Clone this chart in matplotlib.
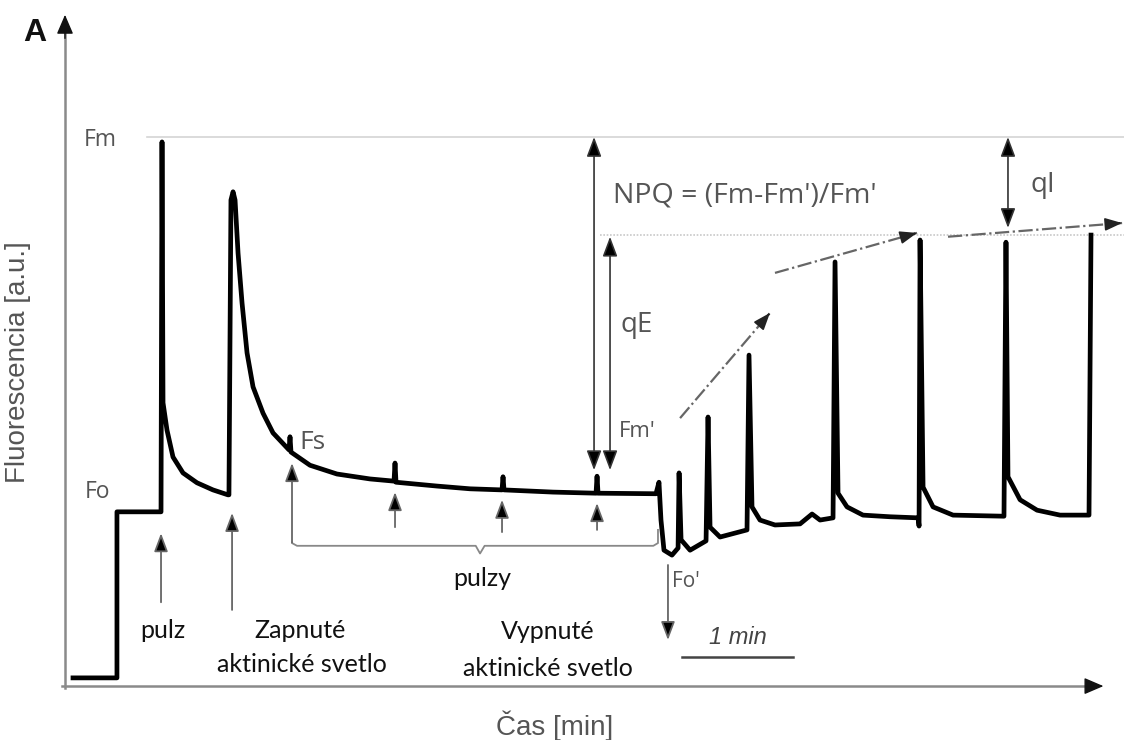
import matplotlib.pyplot as plt

# fluorescence trace: time [min], fluorescence [a.u., Fm = 100]
cas = [0.072, 0.468, 0.468, 0.865, 0.874, 0.883, 0.919, 0.973, 1.063, 1.189, 1.333, 1.468,
       1.477, 1.495, 1.514, 1.532, 1.559, 1.595, 1.640, 1.694, 1.784, 1.874, 2.018, 2.027,
       2.036, 2.207, 2.450, 2.748, 2.964, 2.973, 2.982, 3.351, 3.649, 3.937, 3.946, 3.955,
       4.396, 4.784, 4.793, 4.802, 5.324, 5.351, 5.369, 5.396, 5.468, 5.523, 5.532, 5.550,
       5.631, 5.775, 5.793, 5.811, 5.901, 6.144, 6.162, 6.189, 6.261, 6.396, 6.622, 6.730,
       6.802, 6.919, 6.937, 6.964, 7.045, 7.189, 7.432, 7.685, 7.694, 7.703, 7.730, 7.820,
       8.000, 8.459, 8.477, 8.495, 8.604, 8.757, 8.964, 9.225, 9.243]
fluo = [1.3, 1.3, 31.6, 31.6, 99.1, 51.5, 46.5, 41.6, 38.7, 36.9, 35.6, 34.7,
        34.7, 88.5, 90.0, 88.5, 78.8, 69.7, 60.6, 54.4, 49.6, 46.0, 42.9, 45.3,
        42.5, 40.1, 38.5, 37.6, 37.2, 40.5, 37.0, 36.3, 35.8, 35.6, 38.0, 35.6,
        35.2, 35.0, 38.1, 35.0, 34.9, 37.0, 30.1, 24.6, 23.7, 25.0, 38.7, 26.5,
        24.6, 26.3, 48.9, 28.8, 27.0, 28.3, 60.2, 32.5, 30.1, 29.2, 29.4, 31.2,
        30.1, 30.5, 77.2, 35.0, 32.5, 31.0, 30.7, 30.5, 29.0, 81.2, 36.1, 32.5,
        31.0, 30.8, 80.8, 38.0, 33.8, 31.9, 31.0, 31.0, 82.1]

fm = 100.0          # Fm
fm_ust = 82.1       # Fm' after relaxation
fs_hrot = 39.2      # Fm' marked under actinic light

# pulses under actinic light (time, arrow tip, arrow tail)
pulz_t = [2.045, 2.973, 3.937, 4.793]
pulz_hrot = [40.5, 35.2, 33.8, 33.2]
pulz_chvost = [26.0, 28.8, 27.9, 28.3]

# Fm' trend arrows (start, end)
trend_od = [(5.541, 48.7), (6.396, 75.2), (7.955, 81.8)]
trend_do = [(6.351, 67.9), (7.676, 82.5), (9.523, 84.3)]

sivy = '#555555'

plt.rcParams['font.family'] = ['Lato', 'DejaVu Sans']

fig = plt.figure(figsize=(11.24, 7.4), dpi=100)
ax = fig.add_axes([65 / 1124, 55 / 740, 1035 / 1124, 670 / 740])
ax.set_xlim(0, 9.324)
ax.set_ylim(0, 122.26)
ax.axis('off')

# axes as arrows: gray shaft, black head
ax.plot([0, 0], [-0.6, 119], color='#8a8a8a', lw=1.8, clip_on=False)
ax.plot([-0.03, 9.25], [-0.2, -0.2], color='#8a8a8a', lw=1.8, clip_on=False)
hlava = dict(arrowstyle='-|>,head_length=0.7,head_width=0.3', color='#111111', lw=1.0,
             shrinkA=0, shrinkB=0, mutation_scale=17)
ax.annotate('', xy=(0, 122.3), xytext=(0, 118), arrowprops=hlava, annotation_clip=False)
ax.annotate('', xy=(9.355, -0.2), xytext=(9.22, -0.2), arrowprops=hlava, annotation_clip=False)

# guide lines
ax.plot([0.739, 9.54], [fm, fm], color='#d4d4d4', lw=1.2, clip_on=False)
ax.plot([4.82, 9.54], [fm_ust, fm_ust], color='#c8c8c8', lw=1.2, ls=(0, (1, 1)), clip_on=False)

# trace
ax.plot(cas, fluo, color='black', lw=3.4, solid_joinstyle='round', zorder=5)

dvoj = dict(arrowstyle='<|-|>,head_length=0.8,head_width=0.3', fc='black', ec='#333333',
            lw=1.2, shrinkA=0, shrinkB=0, mutation_scale=15)
ax.annotate('', xy=(4.766, fm), xytext=(4.766, fs_hrot), arrowprops=dvoj)
ax.annotate('', xy=(4.910, 81.8), xytext=(4.910, fs_hrot), arrowprops=dvoj)
ax.annotate('', xy=(8.495, fm), xytext=(8.495, 83.4), arrowprops=dvoj)

# small arrows pointing to pulses
sipka = dict(arrowstyle='-|>,head_length=0.8,head_width=0.3', fc='black', ec='#666666',
             lw=1.3, shrinkA=0, shrinkB=0, mutation_scale=14)
ax.annotate('', xy=(0.865, 27.7), xytext=(0.865, 15.1), arrowprops=sipka)
ax.annotate('', xy=(1.505, 31.4), xytext=(1.505, 13.7), arrowprops=sipka)
for t, h, c in zip(pulz_t, pulz_hrot, pulz_chvost):
    ax.annotate('', xy=(t, h), xytext=(t, c), arrowprops=sipka)
ax.annotate('', xy=(5.432, 8.2), xytext=(5.432, 21.9), arrowprops=sipka)

# bracket under the pulses
ax.plot([2.045, 2.045, 2.09, 3.70, 3.739, 3.78, 5.30, 5.342, 5.342],
        [26.0, 25.9, 25.4, 25.4, 24.0, 25.4, 25.4, 25.9, 28.3],
        color='#888888', lw=1.3)

# Fm' trend dash-dot arrows
for (x0, y0), (x1, y1) in zip(trend_od, trend_do):
    ax.plot([x0, x1], [y0, y1], color='#666666', lw=1.6, ls='-.', clip_on=False)
    ax.annotate('', xy=(x1, y1), xytext=(x1 - (x1 - x0) * 0.02, y1 - (y1 - y0) * 0.02),
                arrowprops=dict(arrowstyle='-|>,head_length=0.8,head_width=0.3',
                                color='#222222', lw=1.2, shrinkA=0, shrinkB=0,
                                mutation_scale=13),
                annotation_clip=False)

# scale bar
ax.plot([5.559, 6.559], [5.1, 5.1], color='#444444', lw=1.8)
ax.text(6.06, 8.6, '1 min', ha='center', va='center', fontsize=17, style='italic',
        color='#444444', family=['Liberation Sans', 'DejaVu Sans'])

# labels in the plot
pop = dict(color=sivy, family=['Open Sans', 'DejaVu Sans'], va='center')
ax.text(0.315, 99.5, 'Fm', ha='center', fontsize=16.5, **pop)
ax.text(0.297, 35.2, 'Fo', ha='center', fontsize=16.5, **pop)
ax.text(2.225, 44.2, 'Fs', ha='center', fontsize=19, **pop)
ax.text(5.153, 46.2, "Fm'", ha='center', fontsize=16, **pop)
ax.text(5.153, 65.7, 'qE', ha='center', fontsize=20, **pop)
ax.text(4.937, 89.4, "NPQ = (Fm-Fm')/Fm'", ha='left', fontsize=20.5, **pop)
ax.text(8.694, 91.2, 'qI', ha='left', fontsize=20, **pop)
ax.text(5.470, 18.8, "Fo'", ha='left', fontsize=15, **pop)

cierny = dict(color='#111111', ha='center', va='center', fontsize=18)
ax.text(0.883, 10.0, 'pulz', **cierny)
ax.text(2.117, 10.0, 'Zapnuté', **cierny)
ax.text(2.135, 3.8, 'aktinické svetlo', **cierny)
ax.text(4.351, 9.7, 'Vypnuté', **cierny)
ax.text(4.351, 3.1, 'aktinické svetlo', **cierny)
ax.text(3.757, 19.5, 'pulzy', **cierny)

fig.text(35 / 1124, 1 - 33 / 740, 'A', ha='center', va='center', fontsize=23,
         fontweight='bold', color='#111111', family=['Liberation Sans', 'DejaVu Sans'])
fig.text(555 / 1124, 1 - 726 / 740, 'Čas [min]', ha='center', va='center', fontsize=20,
         color=sivy, family=['Liberation Sans', 'DejaVu Sans'])
fig.text(18 / 1124, 1 - 362 / 740, 'Fluorescencia [a.u.]', ha='center', va='center',
         fontsize=20, rotation=90, color=sivy, family=['Liberation Sans', 'DejaVu Sans'])

fig.savefig('out.png', dpi=100)
